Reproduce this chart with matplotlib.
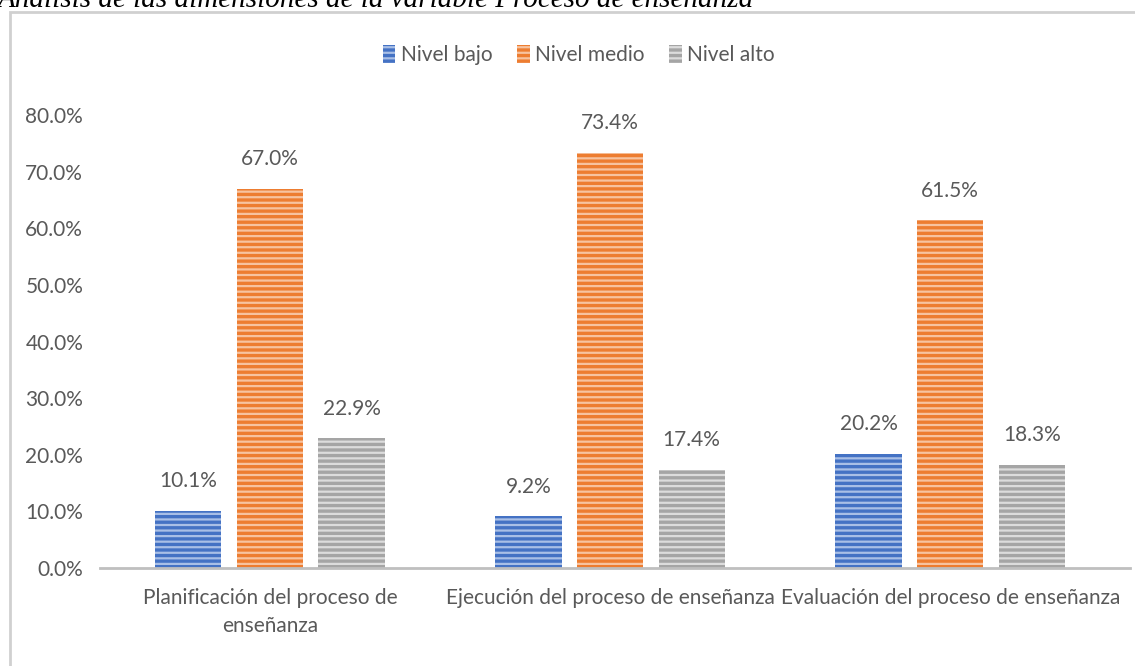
import numpy as np
import matplotlib.pyplot as plt
from matplotlib.patches import Rectangle
from matplotlib.ticker import FuncFormatter

plt.rcParams['font.family'] = ['Lato', 'DejaVu Sans']
plt.rcParams['hatch.linewidth'] = 1.6

categories = ["Planificación del proceso de\nenseñanza",
              "Ejecución del proceso de enseñanza",
              "Evaluación del proceso de enseñanza"]
series = ["Nivel bajo", "Nivel medio", "Nivel alto"]
bajo = [10.1, 9.2, 20.2]
medio = [67.0, 73.4, 61.5]
alto = [22.9, 17.4, 18.3]
values = [bajo, medio, alto]

colors = ["#4472C4", "#ED7D31", "#A5A5A5"]
stripes = ["#A9BFE6", "#F7C3A0", "#DCDCDC"]
text_gray = "#595959"

fig = plt.figure(figsize=(11.35, 6.66), dpi=100)
ax = fig.add_axes([0.088, 0.147, 0.908, 0.68])

x = np.arange(len(categories))
width = 0.195
offsets = [-0.24, 0, 0.24]

for vals, name, c, s, off in zip(values, series, colors, stripes, offsets):
    bars = ax.bar(x + off, vals, width, color=c, edgecolor=s, hatch='---',
                  linewidth=0, label=name)
    for b, v in zip(bars, vals):
        ax.annotate(f"{v:.1f}%", (b.get_x() + b.get_width() / 2, v),
                    xytext=(0, 14), textcoords='offset points',
                    ha='center', va='bottom', fontsize=15, color=text_gray)

ax.set_ylim(0, 80)
ax.set_xlim(-0.5, 2.53)
ax.set_yticks(np.arange(0, 81, 10))
ax.yaxis.set_major_formatter(FuncFormatter(lambda v, p: f"{v:.1f}%"))
ax.set_xticks(x)
ax.set_xticklabels(categories, fontsize=15, color=text_gray, linespacing=1.5)
ax.tick_params(axis='y', labelsize=15, labelcolor=text_gray, length=0, pad=12)
ax.tick_params(axis='x', length=0, pad=14)
for sp in ['top', 'right', 'left']:
    ax.spines[sp].set_visible(False)
ax.spines['bottom'].set_color('#BFBFBF')
ax.spines['bottom'].set_linewidth(2)

leg = fig.legend(loc='center', bbox_to_anchor=(0.51, 0.917), ncol=3, frameon=False,
                 fontsize=15, handlelength=0.6, handleheight=0.9,
                 handletextpad=0.25, columnspacing=1.2)
for t in leg.get_texts():
    t.set_color(text_gray)

fig.patches.append(Rectangle((10 / 1135, -0.01), 1.0, 1 - 12 / 666 + 0.01,
                             transform=fig.transFigure, fill=False,
                             edgecolor='#D0D0D0', linewidth=2))

fig.text(-0.002, 1 - 7 / 666, "Análisis de las dimensiones de la variable Proceso de enseñanza",
         family=['Liberation Serif', 'DejaVu Serif'], style='italic',
         fontsize=21, va='baseline', ha='left', color='black')

fig.savefig("out.png", dpi=100)
